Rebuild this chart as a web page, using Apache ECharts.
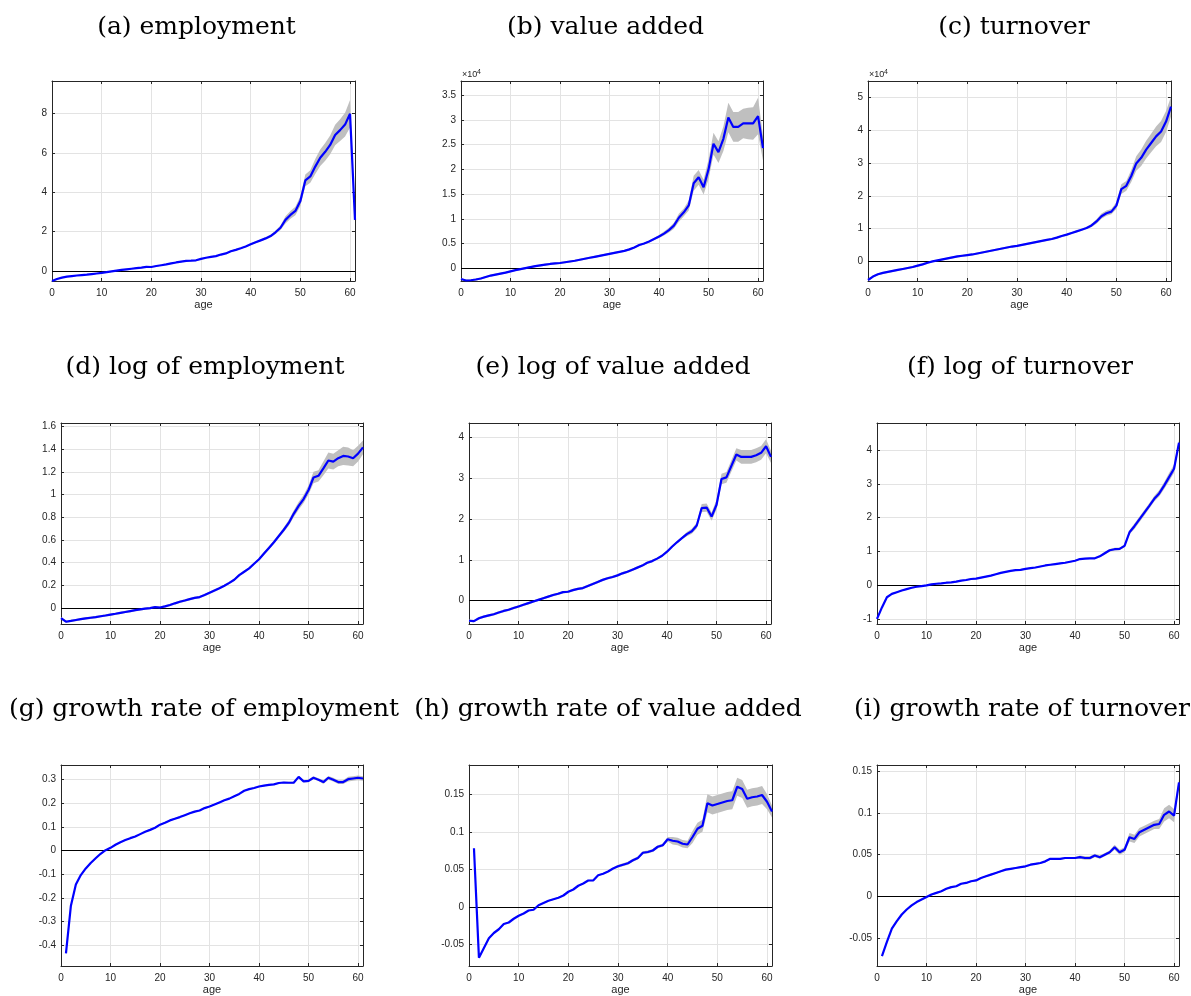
<!DOCTYPE html>
<html><head><meta charset="utf-8">
<script src="https://cdn.jsdelivr.net/npm/echarts@6/dist/echarts.min.js"></script>
<style>html,body{margin:0;padding:0;background:#fff}#c{width:1191px;height:996px}</style>
</head><body><div id="c"></div>
<script>
// ---------- data ----------
const ages0 = [0,1,2,3,4,5,6,7,8,9,10,11,12,13,14,15,16,17,18,19,20,21,22,23,24,25,26,27,28,29,30,31,32,33,34,35,36,37,38,39,40,41,42,43,44,45,46,47,48,49,50,51,52,53,54,55,56,57,58,59,60,61];
const ages1 = [1,2,3,4,5,6,7,8,9,10,11,12,13,14,15,16,17,18,19,20,21,22,23,24,25,26,27,28,29,30,31,32,33,34,35,36,37,38,39,40,41,42,43,44,45,46,47,48,49,50,51,52,53,54,55,56,57,58,59,60,61];
const xTickLabels = [0,10,20,30,40,50,60];

// (a) employment
const empY = [-0.5,-0.4,-0.33,-0.28,-0.25,-0.22,-0.2,-0.18,-0.15,-0.12,
 -0.09,-0.05,-0.01,0.03,0.06,0.09,0.12,0.15,0.18,0.22,
 0.21,0.26,0.3,0.34,0.39,0.44,0.48,0.52,0.53,0.55,
 0.62,0.68,0.72,0.76,0.84,0.9,1.01,1.08,1.16,1.25,
 1.36,1.46,1.56,1.66,1.78,1.97,2.2,2.6,2.85,3.05,
 3.55,4.6,4.8,5.3,5.75,6.05,6.4,6.9,7.15,7.43,
 7.98,2.6];
const empCI = [0.03,0.03,0.03,0.03,0.03,0.03,0.03,0.03,0.03,0.03,
 0.03,0.03,0.03,0.03,0.03,0.03,0.03,0.03,0.03,0.03,
 0.03,0.03,0.03,0.03,0.03,0.03,0.03,0.03,0.03,0.03,
 0.03,0.03,0.03,0.03,0.03,0.03,0.04,0.04,0.04,0.04,
 0.05,0.05,0.05,0.06,0.07,0.09,0.12,0.18,0.2,0.22,
 0.25,0.3,0.32,0.38,0.42,0.45,0.48,0.52,0.55,0.6,
 0.7,0.1];
const empTicks = [0,2,4,6,8];

// (b) value added (x 10^4)
const vaY = [-0.22,-0.25,-0.245,-0.23,-0.21,-0.18,-0.15,-0.13,-0.11,-0.09,
 -0.065,-0.04,-0.02,0.0,0.02,0.04,0.055,0.07,0.085,0.095,
 0.105,0.12,0.135,0.15,0.17,0.19,0.21,0.23,0.25,0.27,
 0.29,0.31,0.33,0.35,0.38,0.42,0.47,0.5,0.54,0.59,
 0.64,0.7,0.77,0.86,1.02,1.13,1.27,1.72,1.84,1.64,
 2.0,2.52,2.35,2.62,3.05,2.86,2.86,2.93,2.93,2.93,
 3.08,2.43];
const vaCI = [0.02,0.02,0.02,0.02,0.02,0.02,0.02,0.02,0.02,0.02,
 0.02,0.02,0.02,0.02,0.02,0.02,0.02,0.02,0.02,0.02,
 0.02,0.02,0.02,0.02,0.02,0.02,0.02,0.02,0.02,0.02,
 0.02,0.02,0.02,0.02,0.02,0.02,0.02,0.02,0.02,0.02,
 0.03,0.04,0.05,0.06,0.08,0.08,0.1,0.15,0.15,0.15,
 0.2,0.22,0.22,0.25,0.3,0.3,0.3,0.3,0.32,0.33,
 0.37,0.25];
const vaTicks = [0,0.5,1,1.5,2,2.5,3,3.5];

// (c) turnover (x 10^4)
const toY = [-0.555,-0.45,-0.38,-0.34,-0.31,-0.28,-0.25,-0.22,-0.19,-0.16,
 -0.12,-0.08,-0.03,0.01,0.04,0.07,0.1,0.13,0.16,0.18,
 0.2,0.22,0.25,0.28,0.31,0.34,0.37,0.4,0.43,0.46,
 0.48,0.51,0.54,0.57,0.6,0.63,0.66,0.69,0.73,0.78,
 0.82,0.87,0.92,0.97,1.02,1.1,1.22,1.38,1.47,1.52,
 1.7,2.2,2.3,2.6,2.98,3.15,3.4,3.6,3.8,3.95,
 4.25,4.7];
const toCI = [0.03,0.03,0.03,0.03,0.03,0.03,0.03,0.03,0.03,0.03,
 0.03,0.03,0.03,0.03,0.03,0.03,0.03,0.03,0.03,0.03,
 0.03,0.03,0.03,0.03,0.03,0.03,0.03,0.03,0.03,0.03,
 0.03,0.03,0.03,0.03,0.03,0.03,0.03,0.03,0.03,0.03,
 0.03,0.03,0.03,0.03,0.03,0.05,0.07,0.08,0.08,0.08,
 0.1,0.15,0.15,0.18,0.22,0.25,0.27,0.28,0.3,0.32,
 0.32,0.3];
const toTicks = [0,1,2,3,4,5];

// (d) log of employment
const lempY = [-0.088,-0.12,-0.113,-0.105,-0.097,-0.09,-0.085,-0.08,-0.072,-0.065,
 -0.057,-0.05,-0.042,-0.034,-0.026,-0.018,-0.011,-0.005,0.0,0.008,
 0.005,0.015,0.027,0.042,0.056,0.067,0.079,0.09,0.097,0.115,
 0.135,0.155,0.175,0.197,0.222,0.25,0.29,0.32,0.35,0.39,
 0.43,0.48,0.53,0.58,0.635,0.69,0.75,0.83,0.9,0.96,
 1.04,1.15,1.165,1.23,1.3,1.29,1.32,1.34,1.335,1.32,
 1.36,1.415];
const lempCI = [0.01,0.01,0.01,0.01,0.01,0.01,0.01,0.01,0.01,0.01,
 0.01,0.01,0.01,0.01,0.01,0.01,0.01,0.01,0.01,0.01,
 0.01,0.01,0.01,0.01,0.01,0.01,0.01,0.01,0.01,0.01,
 0.01,0.01,0.01,0.01,0.01,0.01,0.01,0.01,0.01,0.01,
 0.01,0.015,0.015,0.015,0.015,0.02,0.025,0.03,0.035,0.035,
 0.04,0.05,0.05,0.06,0.07,0.07,0.07,0.08,0.08,0.07,
 0.07,0.06];
const lempTicks = [0,0.2,0.4,0.6,0.8,1,1.2,1.4,1.6];

// (e) log of value added
const lvaY = [-0.49,-0.5,-0.43,-0.39,-0.36,-0.33,-0.29,-0.25,-0.22,-0.18,
 -0.14,-0.1,-0.06,-0.02,0.02,0.06,0.1,0.14,0.17,0.21,
 0.22,0.26,0.29,0.31,0.36,0.41,0.46,0.51,0.55,0.58,
 0.62,0.67,0.71,0.76,0.81,0.86,0.93,0.97,1.03,1.1,
 1.2,1.32,1.43,1.53,1.63,1.7,1.84,2.27,2.28,2.06,
 2.35,2.98,3.02,3.3,3.58,3.52,3.52,3.52,3.56,3.62,
 3.78,3.52];
const lvaCI = [0.03,0.03,0.03,0.03,0.03,0.03,0.03,0.03,0.03,0.03,
 0.03,0.03,0.03,0.03,0.03,0.03,0.03,0.03,0.03,0.03,
 0.03,0.03,0.03,0.03,0.03,0.03,0.03,0.03,0.03,0.03,
 0.03,0.03,0.03,0.03,0.03,0.03,0.03,0.03,0.03,0.03,
 0.03,0.03,0.03,0.03,0.05,0.06,0.07,0.1,0.1,0.1,
 0.12,0.13,0.13,0.14,0.15,0.17,0.17,0.17,0.17,0.17,
 0.17,0.15];
const lvaTicks = [0,1,2,3,4];

// (f) log of turnover
const ltoY = [-0.99,-0.65,-0.35,-0.25,-0.2,-0.15,-0.11,-0.07,-0.04,-0.02,
 0.0,0.03,0.05,0.06,0.08,0.09,0.11,0.14,0.16,0.19,
 0.2,0.23,0.26,0.29,0.33,0.37,0.4,0.43,0.45,0.46,
 0.49,0.51,0.53,0.56,0.59,0.61,0.63,0.65,0.67,0.7,
 0.73,0.78,0.79,0.8,0.8,0.86,0.95,1.04,1.07,1.08,
 1.17,1.57,1.75,1.95,2.15,2.35,2.56,2.72,2.95,3.2,
 3.45,4.22];
const ltoCI = [0.02,0.02,0.02,0.02,0.02,0.02,0.02,0.02,0.02,0.02,
 0.02,0.02,0.02,0.02,0.02,0.02,0.02,0.02,0.02,0.02,
 0.02,0.02,0.02,0.02,0.02,0.02,0.02,0.02,0.02,0.02,
 0.02,0.02,0.02,0.02,0.02,0.02,0.02,0.02,0.02,0.02,
 0.02,0.02,0.02,0.02,0.02,0.03,0.04,0.04,0.04,0.04,
 0.04,0.06,0.08,0.08,0.08,0.08,0.08,0.09,0.1,0.12,
 0.12,0.1];
const ltoTicks = [-1,0,1,2,3,4];

// (g) growth rate of employment (ages 1..61)
const gempY = [-0.434,-0.232,-0.143,-0.103,-0.075,-0.052,-0.032,-0.013,0.002,
 0.012,0.025,0.036,0.045,0.053,0.06,0.07,0.08,0.088,0.097,
 0.11,0.118,0.128,0.135,0.142,0.15,0.158,0.165,0.17,0.18,
 0.187,0.195,0.204,0.213,0.22,0.23,0.24,0.253,0.26,0.265,
 0.271,0.275,0.278,0.28,0.286,0.288,0.287,0.287,0.312,0.293,
 0.295,0.308,0.3,0.29,0.308,0.3,0.29,0.29,0.302,0.305,
 0.308,0.305];
const gempCI = [0.003,0.003,0.003,0.003,0.003,0.003,0.003,0.003,0.003,
 0.003,0.003,0.003,0.003,0.003,0.003,0.003,0.003,0.003,0.003,
 0.003,0.003,0.003,0.003,0.003,0.003,0.003,0.003,0.003,0.003,
 0.003,0.003,0.003,0.003,0.003,0.003,0.003,0.003,0.003,0.003,
 0.003,0.003,0.003,0.003,0.003,0.003,0.004,0.004,0.004,0.004,
 0.006,0.006,0.006,0.008,0.008,0.008,0.008,0.008,0.01,0.01,
 0.01,0.01];
const gempTicks = [-0.4,-0.3,-0.2,-0.1,0,0.1,0.2,0.3];

// (h) growth rate of value added (ages 1..61)
const gvaY = [0.078,-0.068,-0.055,-0.042,-0.035,-0.03,-0.023,-0.021,-0.016,
 -0.012,-0.009,-0.005,-0.004,0.002,0.005,0.008,0.01,0.012,0.015,
 0.02,0.023,0.028,0.031,0.035,0.035,0.042,0.044,0.047,0.051,
 0.054,0.056,0.058,0.062,0.065,0.072,0.073,0.075,0.08,0.082,
 0.09,0.088,0.087,0.084,0.083,0.093,0.104,0.108,0.138,0.135,
 0.137,0.139,0.141,0.142,0.16,0.157,0.144,0.146,0.147,0.149,
 0.14,0.127];
const gvaCI = [0.001,0.001,0.001,0.001,0.001,0.001,0.001,0.001,0.001,
 0.001,0.001,0.001,0.001,0.001,0.001,0.001,0.001,0.001,0.001,
 0.001,0.001,0.001,0.001,0.001,0.001,0.001,0.001,0.001,0.001,
 0.002,0.002,0.002,0.002,0.002,0.002,0.002,0.002,0.002,0.002,
 0.003,0.005,0.005,0.005,0.005,0.008,0.008,0.008,0.012,0.012,
 0.012,0.012,0.012,0.012,0.012,0.012,0.012,0.012,0.012,0.012,
 0.01,0.008];
const gvaTicks = [-0.05,0,0.05,0.1,0.15];

// (i) growth rate of turnover (ages 1..61)
const gtoY = [-0.072,-0.055,-0.039,-0.03,-0.022,-0.016,-0.011,-0.007,-0.004,
 -0.001,0.002,0.004,0.006,0.009,0.011,0.012,0.015,0.016,0.018,
 0.019,0.022,0.024,0.026,0.028,0.03,0.032,0.033,0.034,0.035,
 0.036,0.038,0.039,0.04,0.042,0.045,0.045,0.045,0.046,0.046,
 0.046,0.047,0.046,0.046,0.049,0.047,0.05,0.053,0.059,0.053,
 0.056,0.071,0.069,0.077,0.08,0.083,0.086,0.087,0.098,0.102,
 0.097,0.137];
const gtoCI = [0.001,0.001,0.001,0.001,0.001,0.001,0.001,0.001,0.001,
 0.001,0.001,0.001,0.001,0.001,0.001,0.001,0.001,0.001,0.001,
 0.001,0.001,0.001,0.001,0.001,0.001,0.001,0.001,0.001,0.001,
 0.001,0.001,0.001,0.001,0.001,0.001,0.001,0.001,0.001,0.001,
 0.001,0.002,0.002,0.002,0.002,0.002,0.002,0.002,0.003,0.003,
 0.003,0.005,0.005,0.005,0.005,0.005,0.005,0.006,0.008,0.008,
 0.008,0.004];
const gtoTicks = [-0.05,0,0.05,0.1,0.15];

const titles = ['(a) employment','(b) value added','(c) turnover',
 '(d) log of employment','(e) log of value added','(f) log of turnover',
 '(g) growth rate of employment','(h) growth rate of value added','(i) growth rate of turnover'];

// ---------- layout / styles ----------
const panels = [
 {x:ages0, y:empY,  ci:empCI,  ticks:empTicks,  ymin:-0.5,  ymax:9.64},
 {x:ages0, y:vaY,   ci:vaCI,   ticks:vaTicks,   ymin:-0.26, ymax:3.79, exp:true},
 {x:ages0, y:toY,   ci:toCI,   ticks:toTicks,   ymin:-0.585,ymax:5.48, exp:true},
 {x:ages0, y:lempY, ci:lempCI, ticks:lempTicks, ymin:-0.14, ymax:1.63},
 {x:ages0, y:lvaY,  ci:lvaCI,  ticks:lvaTicks,  ymin:-0.57, ymax:4.35},
 {x:ages0, y:ltoY,  ci:ltoCI,  ticks:ltoTicks,  ymin:-1.14, ymax:4.80},
 {x:ages1, y:gempY, ci:gempCI, ticks:gempTicks, ymin:-0.487,ymax:0.362},
 {x:ages1, y:gvaY,  ci:gvaCI,  ticks:gvaTicks,  ymin:-0.079,ymax:0.189},
 {x:ages1, y:gtoY,  ci:gtoCI,  ticks:gtoTicks,  ymin:-0.084,ymax:0.158}
];
const boxes = [
 [52,81,303,200],[461,81,302,200],[868,81,303,200],
 [61,423,302,201],[469,423,302,201],[877,423,302,201],
 [61,765,302,201],[469,765,303,201],[877,765,302,201]
];
const titlePos = [[196.5,27],[605.5,27],[1014,27],[205,367],[613,367],[1020,367],[204,709],[608,709],[1022,709]];

const AX = '#262626', GRID = '#e3e3e3', BAND = '#bfbfbf', LINE = '#0000ff';
const tickFont = {color:AX, fontSize:10, fontFamily:'Liberation Sans, Arial, sans-serif'};

const grid = [], xAxis = [], yAxis = [], series = [], graphic = [];
panels.forEach((p, k) => {
  const b = boxes[k];
  grid.push({left:b[0], top:b[1], width:b[2], height:b[3], containLabel:false});
  xAxis.push({type:'value', gridIndex:k, min:0, max:61, position:'bottom',
    axisLine:{onZero:false, lineStyle:{color:AX, width:1}},
    axisTick:{inside:true, length:3, customValues:xTickLabels, lineStyle:{color:AX}},
    axisLabel:Object.assign({customValues:xTickLabels, margin:7}, tickFont),
    splitLine:{show:true, lineStyle:{color:GRID, width:1}},
    name:'age', nameLocation:'middle', nameGap:18,
    nameTextStyle:{color:AX, fontSize:11, fontFamily:'Liberation Sans, Arial, sans-serif'}});
  xAxis.push({type:'value', gridIndex:k, min:0, max:61, position:'top',
    axisLine:{onZero:false, lineStyle:{color:AX, width:1}},
    axisTick:{inside:true, length:3, customValues:xTickLabels, lineStyle:{color:AX}},
    axisLabel:{show:false}, splitLine:{show:false}});
  yAxis.push({type:'value', gridIndex:k, min:p.ymin, max:p.ymax, position:'left',
    axisLine:{onZero:false, show:true, lineStyle:{color:AX, width:1}},
    axisTick:{show:true, inside:true, length:3, customValues:p.ticks, lineStyle:{color:AX}},
    axisLabel:Object.assign({customValues:p.ticks, margin:5}, tickFont),
    splitLine:{show:true, lineStyle:{color:GRID, width:1}}});
  yAxis.push({type:'value', gridIndex:k, min:p.ymin, max:p.ymax, position:'right',
    axisLine:{onZero:false, show:true, lineStyle:{color:AX, width:1}},
    axisTick:{show:true, inside:true, length:3, customValues:p.ticks, lineStyle:{color:AX}},
    axisLabel:{show:false}, splitLine:{show:false}});
  const xi = 2*k, yi = 2*k;
  // confidence band drawn as one polygon through the axis scales
  series.push({type:'custom', xAxisIndex:xi, yAxisIndex:yi, silent:true, z:1, clip:true,
    data:p.x.map((a,i) => [a, p.y[i]-p.ci[i], p.y[i]+p.ci[i]]),
    encode:{x:0, y:[1,2]},
    renderItem:(params, api) => {
      if (params.dataIndex !== 0) return null;
      const pts = [];
      for (let i = 0; i < p.x.length; i++) pts.push(api.coord([p.x[i], p.y[i]+p.ci[i]]));
      for (let i = p.x.length-1; i >= 0; i--) pts.push(api.coord([p.x[i], p.y[i]-p.ci[i]]));
      return {type:'polygon', shape:{points:pts}, style:{fill:BAND}};
    }});
  series.push({type:'line', xAxisIndex:xi, yAxisIndex:yi, data:p.x.map((a,i)=>[a,p.y[i]]),
    symbol:'none', lineStyle:{color:LINE, width:2.2}, z:3,
    markLine:{silent:true, symbol:'none', label:{show:false}, z:2,
      lineStyle:{color:'#000', width:1, type:'solid'}, data:[{yAxis:0}]}});
  graphic.push({type:'text', x:titlePos[k][0], y:titlePos[k][1],
    style:{text:titles[k], align:'center', verticalAlign:'middle', fill:'#000',
      font:'25px "DejaVu Serif", serif'}});
  if (p.exp) {
    graphic.push({type:'text', x:b[0]+1, y:b[1]-6,
      style:{text:'\u00d710', align:'left', verticalAlign:'middle', fill:AX, font:'9px "Liberation Sans", Arial, sans-serif'}});
    graphic.push({type:'text', x:b[0]+16, y:b[1]-9,
      style:{text:'4', align:'left', verticalAlign:'middle', fill:AX, font:'7px "Liberation Sans", Arial, sans-serif'}});
  }
});

const chart = echarts.init(document.getElementById('c'), null, {renderer:'canvas'});
chart.setOption({animation:false, backgroundColor:'#fff', grid, xAxis, yAxis, series, graphic});
</script></body></html>
